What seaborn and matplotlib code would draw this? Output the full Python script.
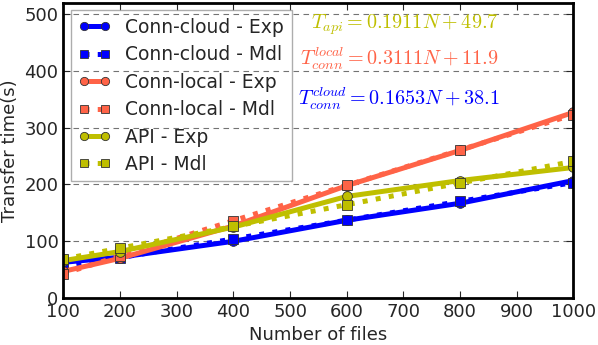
import numpy as np
import pandas as pd
import matplotlib
matplotlib.use('Agg')
import matplotlib.pyplot as plt
import seaborn as sns

# 数据：文件数量与传输时间
n_files = [100, 200, 400, 600, 800, 1000]

cloud_exp = [63, 72, 100, 137, 167, 207]
cloud_mdl = [54.6, 71.2, 104.2, 137.3, 170.3, 203.4]
local_exp = [47, 70, 127, 198, 260, 327]
local_mdl = [43.0, 74.1, 136.3, 198.6, 260.8, 323.0]
api_exp = [66, 82, 125, 179, 207, 230]
api_mdl = [68.8, 87.9, 126.1, 164.4, 202.6, 240.8]

sns.set_style('ticks')
plt.rcParams['font.family'] = ['DejaVu Sans']
plt.rcParams['mathtext.fontset'] = 'cm'

c_blue = '#0000ff'
c_red = '#ff6347'
c_yel = '#bfbf00'

fig = plt.figure(figsize=(5.98, 3.45), dpi=100)
ax = fig.add_axes([0.106, 0.136, 0.853, 0.856])

series = [
    ('Conn-cloud - Exp', cloud_exp, c_blue, '-', 'o'),
    ('Conn-cloud - Mdl', cloud_mdl, c_blue, ':', 's'),
    ('Conn-local - Exp', local_exp, c_red, '-', 'o'),
    ('Conn-local - Mdl', local_mdl, c_red, ':', 's'),
    ('API - Exp', api_exp, c_yel, '-', 'o'),
    ('API - Mdl', api_mdl, c_yel, ':', 's'),
]
for name, vals, col, ls, mk in series:
    sns.lineplot(x=n_files, y=vals, ax=ax, color=col, linestyle=ls, lw=3.6,
                 marker=mk, markersize=7, markeredgecolor='#333333',
                 markeredgewidth=0.6, label=name)

ax.set_xlim(100, 1000)
ax.set_ylim(0, 520)
ax.set_xticks(range(100, 1001, 100))
ax.set_yticks(range(0, 501, 100))
ax.yaxis.grid(True, linestyle=(0, (5, 4)), color='0.45', lw=0.8)
ax.set_axisbelow(True)
ax.tick_params(direction='in', top=True, right=True, labelsize=13, length=5, width=0.8)
for s in ax.spines.values():
    s.set_linewidth(2)
    s.set_color('black')

ax.set_xlabel('Number of files', fontsize=13)
ax.set_ylabel('Transfer time(s)', fontsize=13)

ax.text(868, 482, r'$T_{api} = 0.1911N + 49.7$', color=c_yel, fontsize=14.5,
        ha='right', va='center')
ax.text(868, 421, r'$T_{conn}^{local} = 0.3111N + 11.9$', color=c_red, fontsize=14.5,
        ha='right', va='center')
ax.text(870, 351, r'$T_{conn}^{cloud} = 0.1653N + 38.1$', color=c_blue, fontsize=14.5,
        ha='right', va='center')

leg = ax.legend(loc='upper left', numpoints=2, fontsize=13.5, frameon=True,
                fancybox=False, handlelength=1.7, handletextpad=0.8,
                borderaxespad=0.4, labelspacing=0.45, markerscale=0.85)
leg.get_frame().set_edgecolor('0.6')
leg.get_frame().set_facecolor('none')

plt.savefig('out.png', dpi=100)
plt.close()
